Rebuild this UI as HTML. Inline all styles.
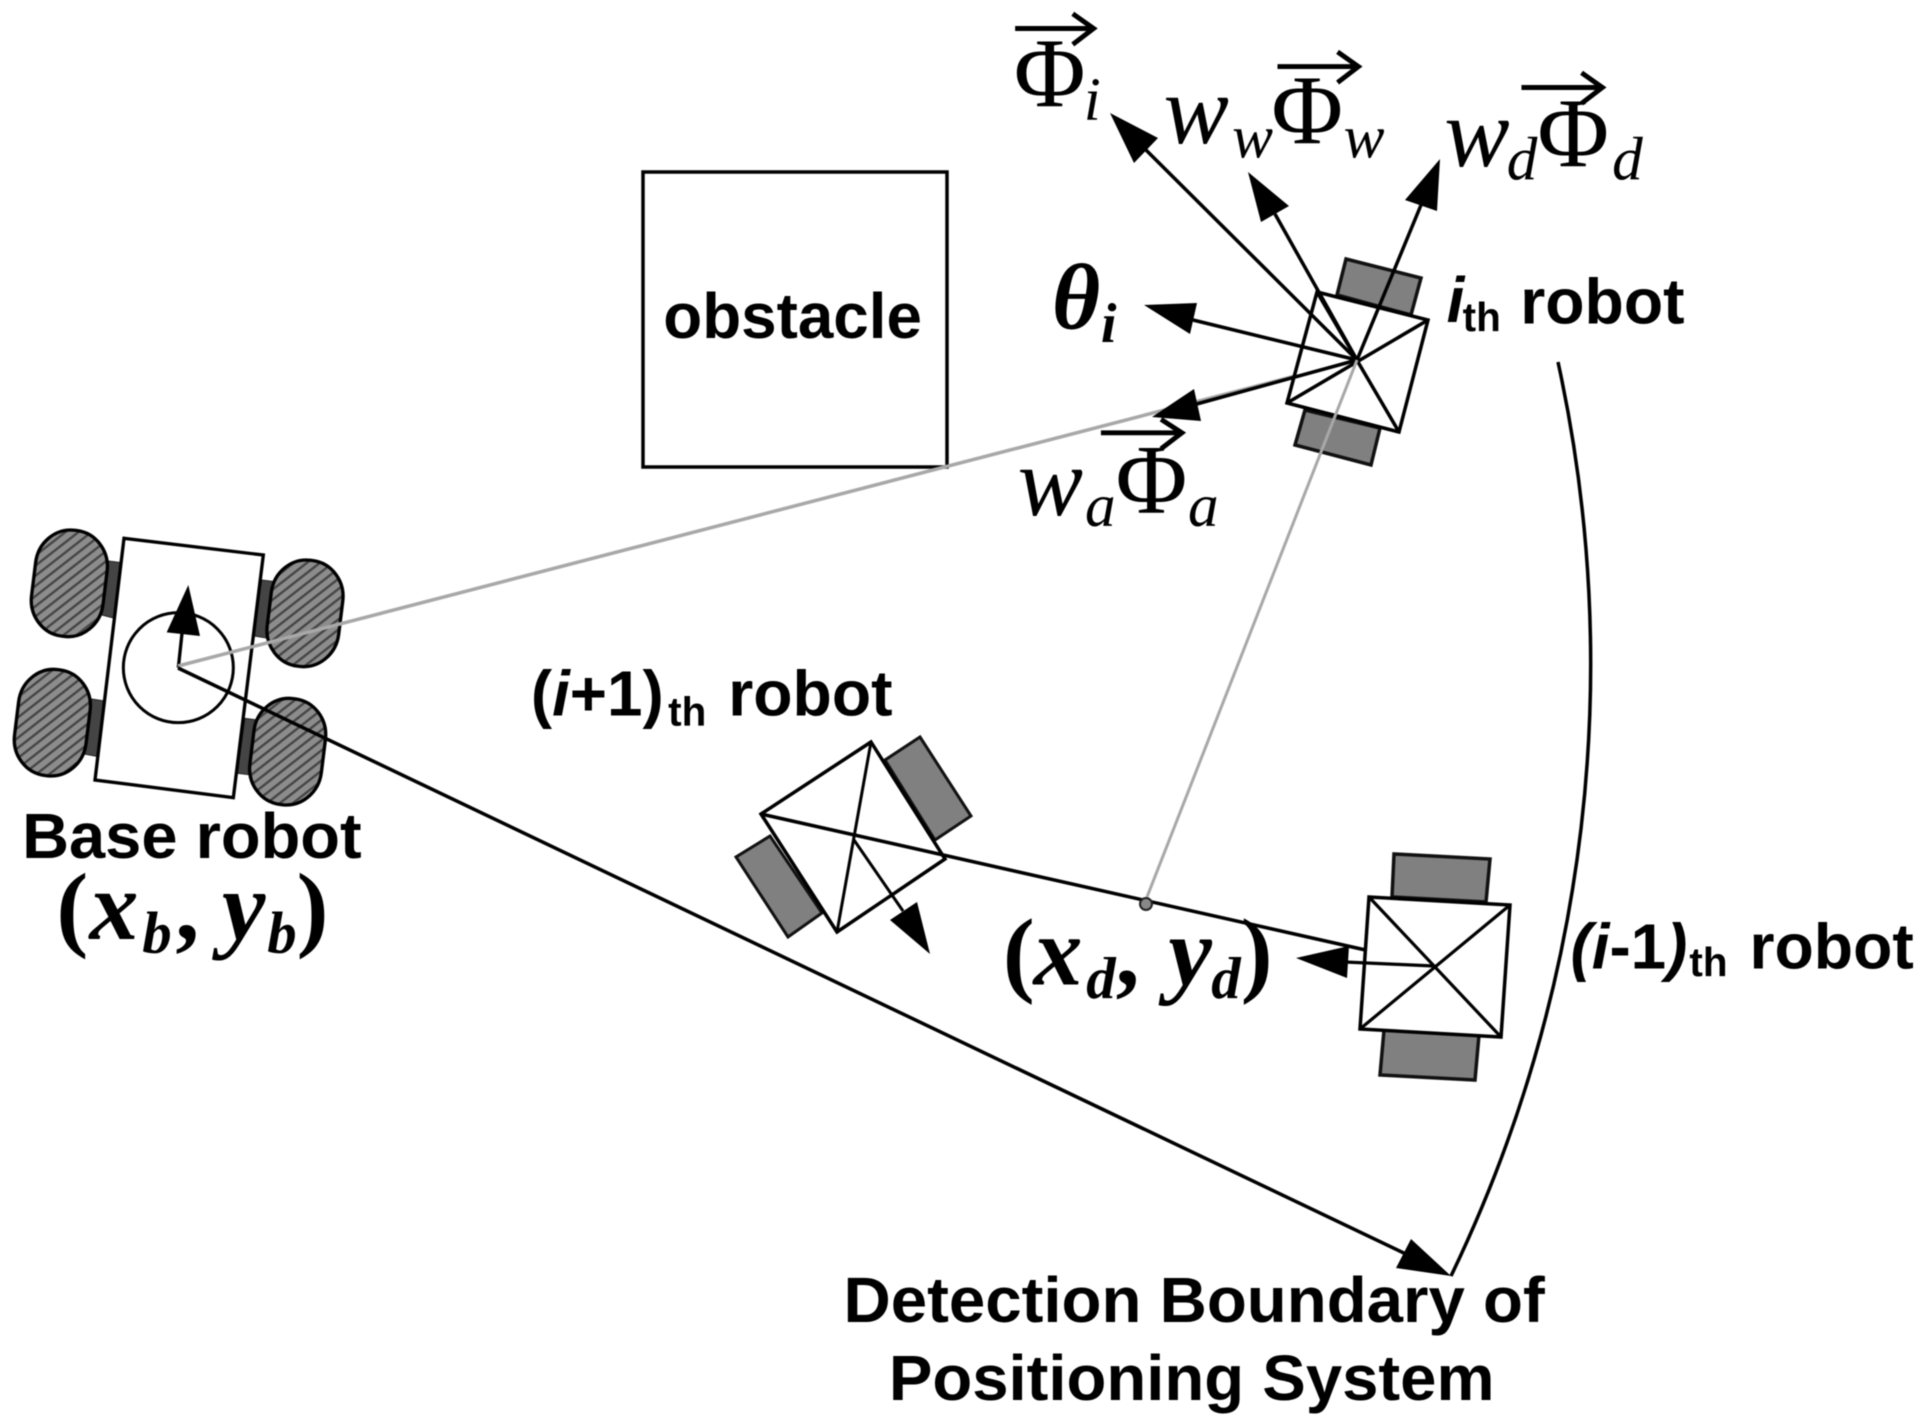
<!DOCTYPE html>
<html><head><meta charset="utf-8"><style>
html,body{margin:0;padding:0;background:#fff}
svg{display:block;filter:blur(.6px)}
.b{font-family:"Liberation Sans",sans-serif;font-weight:bold;font-size:52px;fill:#000}
.m{font-family:"Liberation Serif",serif;font-size:80px;fill:#000}
.i{font-style:italic}
.s{font-family:"Liberation Serif",serif;font-style:italic;font-size:50px;fill:#000}
.bi{font-family:"Liberation Serif",serif;font-style:italic;font-weight:bold;fill:#000}
.n{font-style:normal}
</style></head><body>
<svg xmlns="http://www.w3.org/2000/svg" width="1923" height="1428" viewBox="0 0 1923 1428">
<defs>
<pattern id="h" patternUnits="userSpaceOnUse" width="24" height="24" patternTransform="rotate(-45)">
<rect width="24" height="24" fill="#8c8c8c"/><rect width="24" height="7" fill="#444"/>
</pattern>
</defs>
<rect width="1923" height="1428" fill="#fff"/>

<!-- obstacle -->
<rect x="643" y="172" width="304" height="295" fill="#fff" stroke="#000" stroke-width="3.5"/>

<!-- base robot -->
<g transform="translate(0 500) scale(.33333)">
<g fill="#444" stroke="#222" stroke-width="3">
<polygon points="325,183 365,188 345,355 305,345"/>
<polygon points="785,240 825,245 805,415 762,408"/>
<polygon points="275,597 315,603 295,770 252,762"/>
<polygon points="735,655 775,660 755,825 712,820"/>
</g>
<g fill="url(#h)" stroke="#000" stroke-width="10">
<rect x="100" y="90" width="216" height="320" rx="105" ry="110" transform="rotate(7 208 250)"/>
<rect x="807" y="180" width="216" height="320" rx="105" ry="110" transform="rotate(7 915 340)"/>
<rect x="49" y="508" width="216" height="320" rx="105" ry="110" transform="rotate(7 157 668)"/>
<rect x="755" y="595" width="216" height="320" rx="105" ry="110" transform="rotate(7 863 755)"/>
</g>
<polygon points="372,115 790,165 700,893 285,840" fill="#fff" stroke="#000" stroke-width="10"/>
<circle cx="535" cy="503" r="165" fill="none" stroke="#000" stroke-width="9"/>
<line x1="535" y1="503" x2="546" y2="400" stroke="#000" stroke-width="10"/>
<polygon points="565,255 500,397 600,408" fill="#000"/>
</g>

<!-- long lines -->
<line x1="178" y1="666" x2="1357" y2="360" stroke="#a8a8a8" stroke-width="3.5"/>
<line x1="178" y1="668" x2="1410" y2="1256" stroke="#000" stroke-width="3.5"/>
<polygon points="1451,1276 1396,1268 1411,1239" fill="#000"/>
<path d="M1558 362 A1411 1411 0 0 1 1451 1276" fill="none" stroke="#000" stroke-width="3.5"/>

<!-- i-th robot -->
<g fill="#808080" stroke="#111" stroke-width="3.5">
<polygon points="1346,259 1421,278 1411,315 1337,295"/>
<polygon points="1305,410 1380,428 1371,465 1295,445"/>
</g>
<polygon points="1317,292 1428,320 1399,432 1287,403" fill="#fff" stroke="#000" stroke-width="3.5"/>
<g stroke="#000" stroke-width="3.5" fill="none">
<line x1="1317" y1="292" x2="1399" y2="432"/>
<line x1="1428" y1="320" x2="1287" y2="403"/>
<line x1="1357" y1="360" x2="1146" y2="150"/>
<line x1="1357" y1="360" x2="1275" y2="214"/>
<line x1="1357" y1="360" x2="1421" y2="205"/>
<line x1="1357" y1="360" x2="1193" y2="320"/>
<line x1="1357" y1="360" x2="1193" y2="405"/>
</g>
<polygon points="1110,113 1158,138 1134,163" fill="#000"/>
<polygon points="1248,172 1289,206 1261,222" fill="#000"/>
<polygon points="1440,159 1405,200 1437,211" fill="#000"/>
<polygon points="1144,305 1197,303 1190,334" fill="#000"/>
<polygon points="1152,417 1194,389 1201,421" fill="#000"/>

<!-- gray line -->
<line x1="1357" y1="360" x2="1147" y2="897" stroke="#a8a8a8" stroke-width="3"/>

<!-- (i+1) robot -->
<g fill="#808080" stroke="#111" stroke-width="3">
<polygon points="920,737 971,816 935,840 885,760"/>
<polygon points="770,836 822,913 788,937 736,857"/>
</g>
<polygon points="871,742 945,859 837,932 761,814" fill="#fff" stroke="#000" stroke-width="3.5"/>
<g stroke="#000" stroke-width="3" fill="none">
<line x1="871" y1="742" x2="837" y2="932"/>
<line x1="854" y1="840" x2="903" y2="911"/>
</g>
<polygon points="930,954 890,920 917,902" fill="#000"/>
<line x1="761" y1="814" x2="1370" y2="951" stroke="#000" stroke-width="3.5"/>
<circle cx="1146" cy="904" r="6" fill="#888" stroke="#222" stroke-width="2"/>

<!-- (i-1) robot -->
<g fill="#808080" stroke="#111" stroke-width="3.5">
<polygon points="1394,854 1490,859 1486,902 1392,897"/>
<polygon points="1384,1030 1479,1035 1475,1080 1380,1075"/>
</g>
<polygon points="1369,897 1510,905 1501,1037 1360,1029" fill="#fff" stroke="#000" stroke-width="3.5"/>
<g stroke="#000" stroke-width="3.2" fill="none">
<line x1="1369" y1="897" x2="1501" y2="1037"/>
<line x1="1510" y1="905" x2="1360" y2="1029"/>
<line x1="1434" y1="966" x2="1345" y2="962"/>
</g>
<polygon points="1296,958 1349,946 1347,978" fill="#000"/>

<!-- text layer in overview units -->
<g transform="translate(0 -1) scale(1.226 1.229)">
<text class="b" x="541" y="276" textLength="211" lengthAdjust="spacingAndGlyphs">obstacle</text>
<text class="b" x="18" y="699" textLength="277" lengthAdjust="spacingAndGlyphs">Base robot</text>
<text class="b" x="594" y="583" textLength="134" lengthAdjust="spacingAndGlyphs">robot</text>
<text class="b" x="1240" y="264" textLength="134" lengthAdjust="spacingAndGlyphs">robot</text>
<text class="b" x="1427" y="789" textLength="134" lengthAdjust="spacingAndGlyphs">robot</text>
<text class="b" x="688" y="1076.5" textLength="572" lengthAdjust="spacingAndGlyphs">Detection Boundary of</text>
<text class="b" x="725" y="1140" textLength="494" lengthAdjust="spacingAndGlyphs">Positioning System</text>

<text class="b" x="1180" y="263" style="font-style:italic">i</text>
<text class="b" x="1193" y="270" style="font-size:33px">th</text>

<text class="b" x="433" y="583">(<tspan font-style="italic">i</tspan>+1)</text>
<text class="b" x="545" y="591" style="font-size:33px">th</text>

<text class="b" x="1281" y="789" style="font-style:italic">(i<tspan font-style="normal">-1</tspan>)</text>
<text class="b" x="1378" y="795" style="font-size:33px">th</text>

<!-- coordinates -->
<text class="bi n" x="46" y="765" font-size="78">(</text>
<text class="bi" x="73" y="765" font-size="80">x</text>
<text class="bi" x="116" y="776" font-size="48">b</text>
<text class="bi n" x="143" y="765" font-size="78">,</text>
<text class="bi" x="181" y="765" font-size="80">y</text>
<text class="bi" x="218" y="776" font-size="48">b</text>
<text class="bi n" x="242" y="765" font-size="78">)</text>

<text class="bi n" x="818" y="802" font-size="78">(</text>
<text class="bi" x="843" y="802" font-size="80">x</text>
<text class="bi" x="886" y="813" font-size="48">d</text>
<text class="bi n" x="910" y="802" font-size="78">,</text>
<text class="bi" x="953" y="802" font-size="80">y</text>
<text class="bi" x="988" y="813" font-size="48">d</text>
<text class="bi n" x="1012" y="802" font-size="78">)</text>

<!-- theta -->
<text class="bi" x="858" y="268" font-size="76">θ</text>
<text class="bi" x="898" y="279" font-size="46">i</text>

<!-- vector labels -->
<text class="m" x="827" y="87">Φ</text>
<text class="s" x="884" y="98">i</text>
<text class="m i" x="949" y="117">w</text>
<text class="s" x="1005" y="129">w</text>
<text class="m" x="1037" y="117">Φ</text>
<text class="s" x="1096" y="129">w</text>
<text class="m i" x="1178" y="136">w</text>
<text class="s" x="1229" y="147">d</text>
<text class="m" x="1254" y="136">Φ</text>
<text class="s" x="1315" y="147">d</text>
<text class="m i" x="830" y="420">w</text>
<text class="s" x="885" y="429">a</text>
<text class="m" x="910" y="418">Φ</text>
<text class="s" x="969" y="429">a</text>

<g fill="none" stroke="#000" stroke-width="4">
<path d="M828 24H890M875 12L892 24L875 37"/>
<path d="M1042 55H1106M1091 43L1108 55L1091 68"/>
<path d="M1241 72H1305M1290 60L1307 72L1290 85"/>
<path d="M898 353H962M947 342L964 353L947 366"/>
</g>
</g>
</svg>
</body></html>
